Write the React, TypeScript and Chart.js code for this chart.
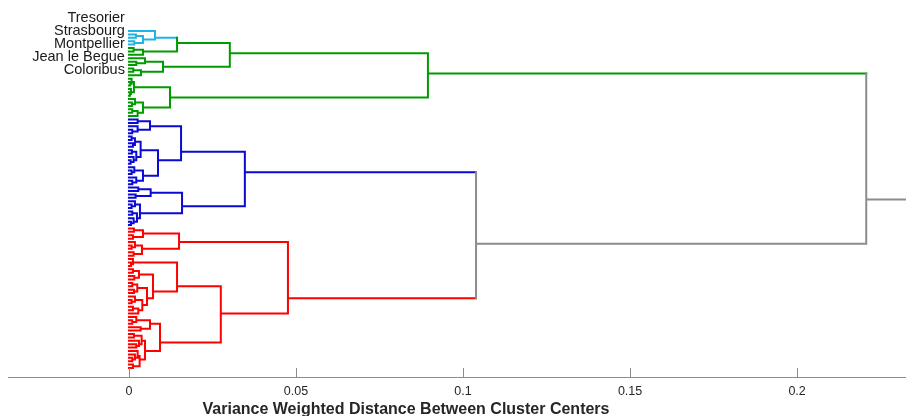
import { useEffect, useRef } from "react";
import { Chart, registerables } from "chart.js";

Chart.register(...registerables);

type TreeNode = null | [number, TreeNode, TreeNode, string?];
const L: TreeNode = null;

// ---- data: dendrogram merge heights (variance weighted distance), nested linkage ----
const cyanGroup: TreeNode = [0.0078, L, [0.0042, [0.0021, L, L], [0.0016, L, L]], "cyan"];
const greenTopA: TreeNode = [0.0042, [0.0014, L, L], L];
const greenTopB: TreeNode = [0.0102, [0.0048, L, [0.0022, L, L]], [0.0036, [0.0013, L, L], L]];
const greenTop: TreeNode = [0.0302, [0.0144, cyanGroup, greenTopA], greenTopB];
const greenLow: TreeNode = [0.0123,
  [0.0015, [0.0008, L, [0.0004, L, L]], [0.0006, L, [0.0003, L, L]]],
  [0.0042, [0.0018, L, [0.0009, L, L]], [0.0026, [0.001, L, L], L]]];
const greenCluster: TreeNode = [0.0895, greenTop, greenLow, "green"];

const blueUpper: TreeNode = [0.0156,
  [0.0063, [0.0026, L, L], [0.0026, L, [0.001, L, L]]],
  [0.0087,
    [0.0035, [0.0018, [0.0008, L, L], [0.0012, L, L]], [0.0022, [0.0009, L, L], [0.0014, L, [0.0005, L, L]]]],
    [0.0042, [0.0016, L, [0.0008, L, L]], [0.0022, L, [0.001, L, L]]]]];
const blueLower: TreeNode = [0.0159,
  [0.0065, [0.0028, L, L], [0.002, L, L]],
  [0.0033, [0.0018, L, [0.0008, L, L]], [0.0024, [0.001, L, L], [0.0014, L, [0.0006, L, L]]]]];
const blueCluster: TreeNode = [0.0347, blueUpper, blueLower, "blue"];

const redUpper: TreeNode = [0.015,
  [0.0042, [0.0015, L, L], [0.0012, L, L]],
  [0.0039, [0.0018, L, [0.0008, L, L]], [0.0014, L, L]]];
const redMidA: TreeNode = [0.0144,
  [0.0012, L, [0.0006, L, L]],
  [0.0072,
    [0.003, [0.0012, L, L], [0.0016, L, L]],
    [0.0054, [0.0025, [0.001, L, L], [0.0015, L, L]], [0.004, [0.0018, L, [0.0008, L, L]], [0.0028, [0.0012, L, L], L]]]]];
const redMidB: TreeNode = [0.0093,
  [0.0063, [0.0022, L, [0.001, L, L]], [0.0035, L, L]],
  [0.0048,
    [0.0038, [0.0015, L, L], [0.003, L, [0.0022, L, L]]],
    [0.0032, [0.0026, L, [0.0018, L, [0.001, L, L]]], [0.0012, L, L]]]];
const redCluster: TreeNode = [0.0476, redUpper, [0.0275, redMidA, redMidB], "red"];

const dendrogram: TreeNode = [0.2207, greenCluster, [0.1039, blueCluster, redCluster], "grey"];

const leafLabels = ["Tresorier", "Strasbourg", "Montpellier", "Jean le Begue", "Coloribus"];
const leafLabelPositions = [-3.8, 0, 3.8, 7.6, 11.5];

const xTickValues = [0, 0.05, 0.1, 0.15, 0.2];
const xTickLabels = ["0", "0.05", "0.1", "0.15", "0.2"];
const xTitle = "Variance Weighted Distance Between Cluster Centers";

const xMin = -0.0362;
const xMax = 0.2326;
const yMin = -7.64;
const yMax = 101.64;

// ---- styles ----
const palette: Record<string, string> = {
  grey: "#8c8c8c",
  green: "#009b00",
  cyan: "#1eb4e6",
  blue: "#0a0ad2",
  red: "#ff0000",
};
const FONT = '"Liberation Sans", Arial, Helvetica, sans-serif';

export default function App() {
  const ref = useRef<HTMLCanvasElement>(null);

  useEffect(() => {
    if (!ref.current) return;
    const segs: Record<string, { x: number; y: number | null }[]> = {};
    let counter = 0;
    const add = (k: string, x1: number, y1: number, x2: number, y2: number) => {
      (segs[k] ||= []).push({ x: x1, y: y1 }, { x: x2, y: y2 }, { x: x2, y: null });
    };
    const walk = (node: TreeNode, color: string, parentH: number): { sum: number; n: number } => {
      if (node === null) {
        const i = counter++;
        add(color, 0, i, parentH, i);
        return { sum: i, n: 1 };
      }
      const [h, a, b, key] = node;
      const c = key ?? color;
      const ra = walk(a, c, h);
      const rb = walk(b, c, h);
      add(c, h, ra.sum / ra.n, h, rb.sum / rb.n);
      const y = (ra.sum + rb.sum) / (ra.n + rb.n);
      add(c, h, y, parentH, y);
      return { sum: ra.sum + rb.sum, n: ra.n + rb.n };
    };
    walk(dendrogram, "grey", xMax + 0.02);

    const order = ["grey", "green", "cyan", "blue", "red"];
    const datasets = order
      .filter((k) => segs[k])
      .map((k) => ({
        label: k,
        data: segs[k],
        showLine: true,
        borderColor: palette[k],
        backgroundColor: palette[k],
        borderWidth: 2,
        pointRadius: 0,
        borderCapStyle: "square" as const,
        borderJoinStyle: "miter" as const,
        spanGaps: false,
        fill: false,
      }));

    const overlay = {
      id: "overlay",
      afterDraw(chart: any) {
        const ctx = chart.ctx as CanvasRenderingContext2D;
        const xs = chart.scales.x;
        const ys = chart.scales.y;
        const area = chart.chartArea;
        ctx.save();
        // inward tick marks
        ctx.strokeStyle = "#8c8c8c";
        ctx.lineWidth = 1;
        for (const v of xTickValues) {
          const px = Math.round(xs.getPixelForValue(v)) + 0.5;
          ctx.beginPath();
          ctx.moveTo(px, area.bottom);
          ctx.lineTo(px, area.bottom - 9);
          ctx.stroke();
        }
        // leaf labels
        ctx.fillStyle = "#1a1a1a";
        ctx.font = `14.5px ${FONT}`;
        ctx.textAlign = "right";
        ctx.textBaseline = "middle";
        const lx = xs.getPixelForValue(0) - 4;
        leafLabels.forEach((t, i) => {
          ctx.fillText(t, lx, ys.getPixelForValue(leafLabelPositions[i]));
        });
        // axis title
        ctx.font = `bold 16px ${FONT}`;
        ctx.textAlign = "center";
        ctx.fillStyle = "#262626";
        ctx.fillText(xTitle, 406, 410);
        ctx.restore();
      },
    };

    const chart = new Chart(ref.current, {
      type: "scatter",
      data: { datasets: datasets as any },
      options: {
        animation: false,
        responsive: false,
        events: [],
        layout: { padding: { left: 8, top: 5, right: 0, bottom: 0 } },
        plugins: { legend: { display: false }, tooltip: { enabled: false } },
        scales: {
          x: {
            type: "linear",
            min: xMin,
            max: xMax,
            afterBuildTicks: (s: any) => {
              s.ticks = xTickValues.map((v) => ({ value: v }));
            },
            afterFit: (s: any) => {
              s.height = 39;
            },
            ticks: {
              callback: (_v: any, i: number) => xTickLabels[i],
              font: { family: FONT, size: 12.5 },
              color: "#262626",
              padding: 7,
              maxRotation: 0,
            },
            grid: { display: true, drawOnChartArea: false, drawTicks: false },
            border: { display: true, color: "#8c8c8c", width: 1 },
          },
          y: {
            type: "linear",
            display: false,
            min: yMin,
            max: yMax,
            reverse: true,
          },
        },
      },
      plugins: [overlay],
    });
    return () => chart.destroy();
  }, []);

  return (
    <div style={{ position: "absolute", left: 0, top: 0, width: 906, height: 416, background: "#fff" }}>
      <canvas ref={ref} width={906} height={416} style={{ display: "block" }} />
    </div>
  );
}
